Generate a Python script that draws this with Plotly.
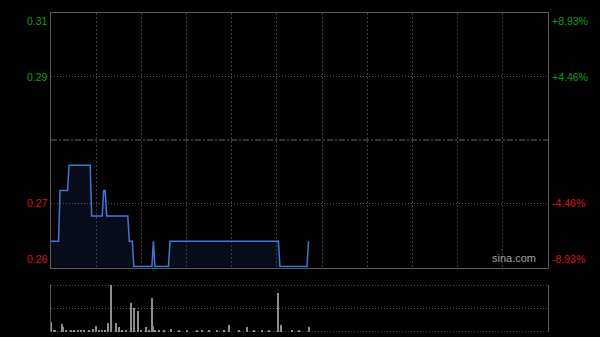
import plotly.graph_objects as go

# ---- data ----
price_minutes = [0, 5, 6, 11, 12, 26, 27, 34, 35, 36, 37, 51, 52, 54, 55, 67, 68, 69, 78, 79, 151, 152, 170, 171]
price_values = [0.26, 0.26, 0.27, 0.27, 0.275, 0.275, 0.265, 0.265, 0.27, 0.27, 0.265, 0.265, 0.26, 0.26, 0.255,
                0.255, 0.26, 0.255, 0.255, 0.26, 0.26, 0.255, 0.255, 0.26]

vol_minutes = [0, 2, 3, 7, 8, 10, 13, 15, 18, 20, 22, 25, 28, 30, 32, 34, 36, 38, 40, 43, 45, 47, 50, 53, 55, 58,
               60, 63, 65, 67, 68, 69, 72, 75, 80, 85, 90, 97, 100, 105, 110, 115, 118, 125, 130, 135, 140, 145,
               151, 153, 160, 165, 171]
vol_values = [10.3, 0.8, 0.8, 8, 4.3, 0.8, 2, 0.8, 1, 0.8, 0.8, 0.8, 2.7, 6, 0.8, 0.8, 2, 9, 47, 8.7, 4.3, 0.8,
              0.8, 28.7, 24, 21, 0.8, 4.3, 0.8, 33.7, 5.3, 2, 0.8, 0.8, 2.7, 0.8, 0.8, 2, 0.8, 0.8, 0.8, 0.8, 6.3,
              0.8, 4.3, 0.8, 0.8, 0.8, 39.3, 6.3, 0.8, 0.8, 4.3]

prev_close = 0.28
tick_vals = [0.305, 0.2925, 0.2675, 0.255]
left_labels = ["0.31", "0.29", "0.27", "0.26"]
right_labels = ["+8.93%", "+4.46%", "-4.46%", "-8.93%"]
time_grid = [30, 60, 90, 120, 150, 180, 210, 240, 270, 300]
vol_grid = [0, 23.5, 47]

GREEN = "#0ea00e"
RED = "#d81616"
FONT = "Liberation Sans, Arial, sans-serif"

fig = go.Figure()

fig.add_trace(go.Scatter(
    x=price_minutes, y=price_values, mode="lines",
    line=dict(color="#3f78d6", width=1.5),
    fill="tozeroy", fillcolor="rgba(40,80,150,0.16)",
    xaxis="x", yaxis="y", hoverinfo="skip"))

fig.add_trace(go.Bar(
    x=vol_minutes, y=vol_values, width=0.7,
    marker=dict(color="#8c8c8c", line=dict(width=0)),
    xaxis="x2", yaxis="y2", hoverinfo="skip"))

annotations = []
for v, lt, rt in zip(tick_vals, left_labels, right_labels):
    col = GREEN if v > prev_close else RED
    if v == max(tick_vals):
        ya = "top"
    elif v == min(tick_vals):
        ya = "bottom"
    else:
        ya = "middle"
    annotations.append(dict(x=0.084, xref="paper", y=v, yref="y", text=lt, showarrow=False,
                            xanchor="right", yanchor=ya, font=dict(color=col, size=10.5, family=FONT)))
    annotations.append(dict(x=0.917, xref="paper", y=v, yref="y", text=rt, showarrow=False,
                            xanchor="left", yanchor=ya, font=dict(color=col, size=10.5, family=FONT)))

annotations.append(dict(x=0.896, xref="paper", y=0.2095, yref="paper", text="sina.com", showarrow=False,
                        xanchor="right", yanchor="bottom", font=dict(color="#a0a0a0", size=11, family=FONT)))

shapes = [dict(type="line", xref="x domain", x0=0, x1=1, yref="y", y0=prev_close, y1=prev_close,
               line=dict(color="#6a6a6a", width=1, dash="6px,2px,2px,2px"), layer="below")]
for g in vol_grid:
    shapes.append(dict(type="line", xref="x2 domain", x0=0, x1=1, yref="y2", y0=g, y1=g,
                       line=dict(color="#5a5a5a", width=1, dash="1px,2px"), layer="below"))

fig.update_layout(
    width=600, height=337, margin=dict(l=0, r=0, t=0, b=0),
    paper_bgcolor="#000000", plot_bgcolor="#000000", showlegend=False, bargap=0,
    xaxis=dict(domain=[0.085, 0.9133], range=[0, 330], tickvals=time_grid, showticklabels=False,
               ticks="", showgrid=True, gridcolor="#3a3a3a", griddash="2px,2px", gridwidth=1,
               showline=True, mirror=True, linecolor="#5a5a5a", linewidth=1, zeroline=False, fixedrange=True),
    yaxis=dict(domain=[0.2062, 0.96], range=[0.2548, 0.305], tickvals=[0.2675, 0.2925], showticklabels=False,
               ticks="", showgrid=True, gridcolor="#555555", griddash="1px,2px", gridwidth=1,
               showline=True, mirror=True, linecolor="#5a5a5a", linewidth=1, zeroline=False),
    xaxis2=dict(domain=[0.085, 0.9133], range=[0, 330], showticklabels=False, ticks="", showgrid=False,
                showline=False, zeroline=False, anchor="y2"),
    yaxis2=dict(domain=[0.0148, 0.1543], range=[-0.3, 47.3], showticklabels=False,
                ticks="", showgrid=False,
                showline=True, mirror=True, linecolor="#5a5a5a", linewidth=1, zeroline=False, anchor="x2"),
    annotations=annotations,
    shapes=shapes,
)

fig.write_html("out.html")
